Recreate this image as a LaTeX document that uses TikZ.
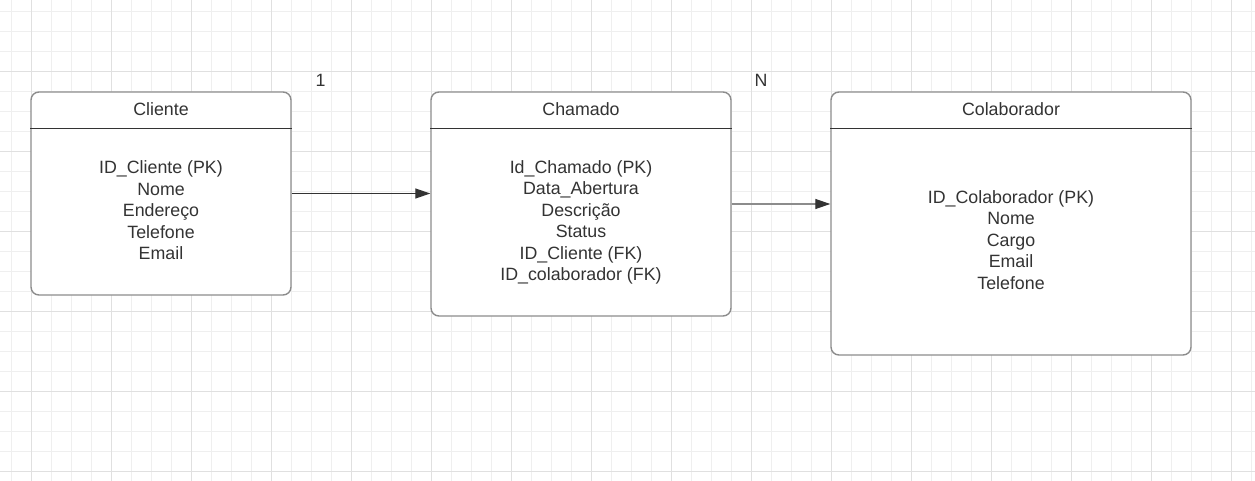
\documentclass[tikz,border=0pt]{standalone}
\usepackage{fontspec}
\setmainfont{Liberation Sans}
\usetikzlibrary{arrows.meta}
\definecolor{gridminor}{HTML}{EFEFEF}
\definecolor{gridmajor}{HTML}{E0E0E0}
\definecolor{boxline}{HTML}{8C8C8C}
\definecolor{inkdark}{HTML}{333333}
\tikzset{
  entbox/.style={draw=boxline, line width=1.4pt, rounded corners=8pt, fill=white, inner sep=0pt},
  divider/.style={draw=inkdark, line width=1pt},
  txt/.style={text=inkdark, align=center, inner sep=0pt, font=\fontsize{17.8}{21.5}\selectfont},
  conn/.style={line width=1.2pt, -{Triangle[length=15pt,width=10pt,color=inkdark]}},
}
\begin{document}
\begin{tikzpicture}[x=1pt,y=-1pt]
\useasboundingbox (0,0) rectangle (1255,481);
% grid
\foreach \i in {0,...,62} {
  \draw[gridminor, line width=0.9pt] (11.7+20*\i,0) -- (11.7+20*\i,481);
}
\foreach \j in {0,...,23} {
  \draw[gridminor, line width=0.9pt] (0,11.7+20*\j) -- (1255,11.7+20*\j);
}
\foreach \i in {0,...,15} {
  \draw[gridmajor, line width=1pt] (31.7+80*\i,0) -- (31.7+80*\i,481);
}
\foreach \j in {0,...,5} {
  \draw[gridmajor, line width=1pt] (0,71.7+80*\j) -- (1255,71.7+80*\j);
}
% boxes
\node[entbox, minimum width=260pt, minimum height=203pt] (cliente) at (161,193.5) {};
\node[entbox, minimum width=300pt, minimum height=224pt] (chamado) at (581,204) {};
\node[entbox, minimum width=360pt, minimum height=263pt] (colab) at (1011,223.5) {};
\draw[divider] ([yshift=-37pt]cliente.north west) -- ([yshift=-37pt]cliente.north east);
\draw[divider] ([yshift=-37pt]chamado.north west) -- ([yshift=-37pt]chamado.north east);
\draw[divider] ([yshift=-37pt]colab.north west) -- ([yshift=-37pt]colab.north east);
% headers
\node[txt] (clienteh) at (161,109.5) {Cliente};
\node[txt] (chamadoh) at (581,109.5) {Chamado};
\node[txt] (colabh) at (1011,109.5) {Colaborador};
% bodies
\node[txt] (clienteb) at (161,210.5) {ID\_Cliente (PK)\\Nome\\Endereço\\Telefone\\Email};
\node[txt] (chamadob) at (581,222.5) {Id\_Chamado (PK)\\Data\_Abertura\\Descrição\\Status\\ID\_Cliente (FK)\\ID\_colaborador (FK)};
\node[txt] (colabb) at (1011,240) {ID\_Colaborador (PK)\\Nome\\Cargo\\Email\\Telefone};
% cardinalities
\node[txt] (card1) at (320.5,80) {1};
\node[txt] (cardN) at (761,80) {N};
% connectors
\draw[conn, draw=inkdark] (cliente.east) -- (cliente.east -| chamado.west);
\draw[conn, draw=boxline] (chamado.east) -- (chamado.east -| colab.west);
\end{tikzpicture}
\end{document}
